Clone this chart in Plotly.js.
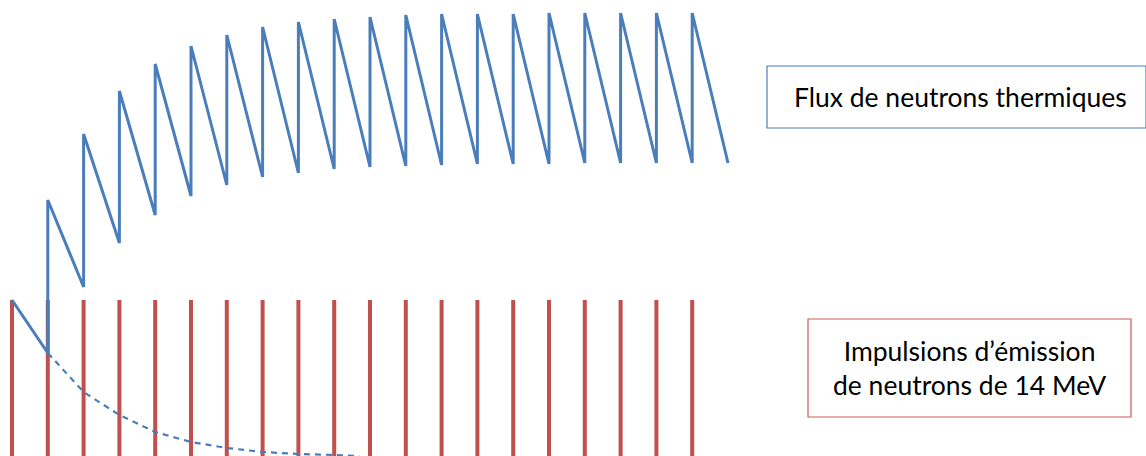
<!DOCTYPE html>
<html>
<head>
<meta charset="utf-8">
<script src="https://cdn.plot.ly/plotly-3.0.1.min.js"></script>
<style>html,body{margin:0;padding:0;background:#fff;}#chart{width:1146px;height:456px;}</style>
</head>
<body>
<div id="chart"></div>
<script>
// Pulse times (arbitrary time units, one pulse period = 1)
const pulseTimes = [0,1,2,3,4,5,6,7,8,9,10,11,12,13,14,15,16,17,18,19];
const pulseHeight = 156;
// Thermal neutron flux just after each pulse (peak) and just before the next pulse (trough)
const fluxPeaks   = [156,256,322,365,392,410,421,429,434,437,439,441,442,442,442,443,443,443,443,443];
const fluxTroughs = [103,169,213,241,260,271,279,283,287,289,290,291,292,292,292,293,293,293,293,293];
// Decay of the flux from a single pulse (dashed curve)
const decayTimes  = [1,2,3,4,5,6,7,8,9,9.7];
const decayValues = [103,64,41,24,14,8,4,2,1,0];

const labelFlux = "Flux de neutrons thermiques";
const labelPulse = "Impulsions d\u2019émission<br>de neutrons de 14 MeV";

const blue = "#4A7EBB";
const red = "#C0504D";

// Build sawtooth
const sx = [], sy = [];
for (let i = 0; i < pulseTimes.length; i++) {
  sx.push(pulseTimes[i]); sy.push(fluxPeaks[i]);
  sx.push(pulseTimes[i] + 1); sy.push(fluxTroughs[i]);
}
// Build pulses
const px = [], py = [];
pulseTimes.forEach(t => { px.push(t, t, null); py.push(0, pulseHeight, null); });

const traces = [
  {x: px, y: py, mode: "lines", line: {color: red, width: 4}, hoverinfo: "skip", showlegend: false},
  {x: decayTimes, y: decayValues, mode: "lines", line: {color: blue, width: 2.2, dash: "6px,5px"}, hoverinfo: "skip", showlegend: false},
  {x: sx, y: sy, mode: "lines", line: {color: blue, width: 3}, hoverinfo: "skip", showlegend: false}
];

const W = 1146, H = 456;
const x0 = 12, dx = 35.8;
const font = {family: "Lato, 'Open Sans', sans-serif", size: 26.5, color: "#000"};
const layout = {
  width: W, height: H,
  margin: {l: 0, r: 0, t: 0, b: 0},
  paper_bgcolor: "#fff", plot_bgcolor: "#fff",
  xaxis: {range: [-x0/dx, (W - x0)/dx], visible: false, fixedrange: true},
  yaxis: {range: [0, H], visible: false, fixedrange: true},
  showlegend: false,
  shapes: [
    {type: "rect", xref: "paper", yref: "paper", x0: 767/W, x1: 1146/W, y0: 1 - 128/H, y1: 1 - 66/H,
     line: {color: blue, width: 1.2}, fillcolor: "rgba(0,0,0,0)"},
    {type: "rect", xref: "paper", yref: "paper", x0: 808/W, x1: 1131/W, y0: 1 - 417/H, y1: 1 - 319/H,
     line: {color: "#D0585A", width: 1.2}, fillcolor: "rgba(0,0,0,0)"}
  ],
  annotations: [
    {text: labelFlux, xref: "paper", yref: "paper", x: 960/W, y: 1 - 97/H, showarrow: false,
     xanchor: "center", yanchor: "middle", font: font},
    {text: labelPulse, xref: "paper", yref: "paper", x: 969/W, y: 1 - 368/H, showarrow: false,
     xanchor: "center", yanchor: "middle", align: "center", font: font}
  ]
};

Plotly.newPlot("chart", traces, layout, {staticPlot: true, displayModeBar: false});
</script>
</body>
</html>
